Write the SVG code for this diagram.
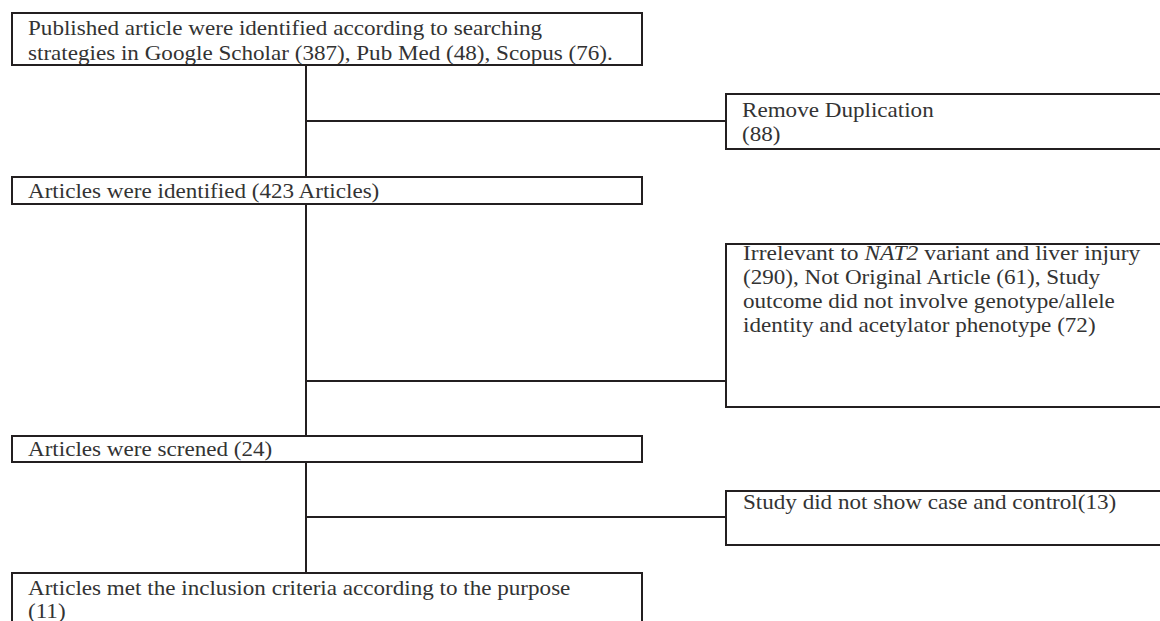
<svg xmlns="http://www.w3.org/2000/svg" width="1160" height="621" viewBox="0 0 1160 621">
<style>
.box{fill:#fff;stroke:#231f20;stroke-width:2}
.ln{stroke:#231f20;stroke-width:2;fill:none}
text{font-family:"Liberation Serif","Times New Roman",serif;font-size:21px;fill:#333}
</style>
<rect width="1160" height="621" fill="#fff"/>
<g id="connectors">
<line class="ln" x1="306" y1="65" x2="306" y2="177"/>
<line class="ln" x1="306" y1="121" x2="726" y2="121"/>
<line class="ln" x1="306" y1="204" x2="306" y2="436"/>
<line class="ln" x1="306" y1="381" x2="726" y2="381"/>
<line class="ln" x1="306" y1="462" x2="306" y2="573"/>
<line class="ln" x1="306" y1="517" x2="726" y2="517"/>
</g>
<g id="n1">
<rect class="box" x="12" y="13" width="630" height="52"/>
<text transform="translate(28 35) scale(1.1 1)">Published article were identified according to searching</text>
<text transform="translate(28 60) scale(1.1 1)">strategies in Google Scholar (387), Pub Med (48), Scopus (76).</text>
</g>
<g id="n2">
<rect class="box" x="726" y="94" width="460" height="55"/>
<text transform="translate(742 117) scale(1.1 1)">Remove Duplication</text>
<text transform="translate(742 141) scale(1.1 1)">(88)</text>
</g>
<g id="n3">
<rect class="box" x="12" y="177" width="630" height="27"/>
<text transform="translate(28 198) scale(1.1 1)">Articles were identified (423 Articles)</text>
</g>
<g id="n4">
<rect class="box" x="726" y="244" width="460" height="163"/>
<text transform="translate(743 260) scale(1.12 1)">Irrelevant to <tspan font-style="italic">NAT2</tspan> variant and liver injury</text>
<text transform="translate(743 284) scale(1.1 1)">(290), Not Original Article (61), Study</text>
<text transform="translate(743 308) scale(1.1 1)">outcome did not involve genotype/allele</text>
<text transform="translate(743 332) scale(1.1 1)">identity and acetylator phenotype (72)</text>
</g>
<g id="n5">
<rect class="box" x="12" y="436" width="630" height="26"/>
<text transform="translate(28 456) scale(1.1 1)">Articles were screned (24)</text>
</g>
<g id="n6">
<rect class="box" x="726" y="491" width="460" height="54"/>
<text transform="translate(743 509) scale(1.1 1)">Study did not show case and control(13)</text>
</g>
<g id="n7">
<rect class="box" x="12" y="573" width="630" height="70"/>
<text transform="translate(28 595) scale(1.1 1)">Articles met the inclusion criteria according to the purpose</text>
<text transform="translate(28 618) scale(1.1 1)">(11)</text>
</g>
</svg>
